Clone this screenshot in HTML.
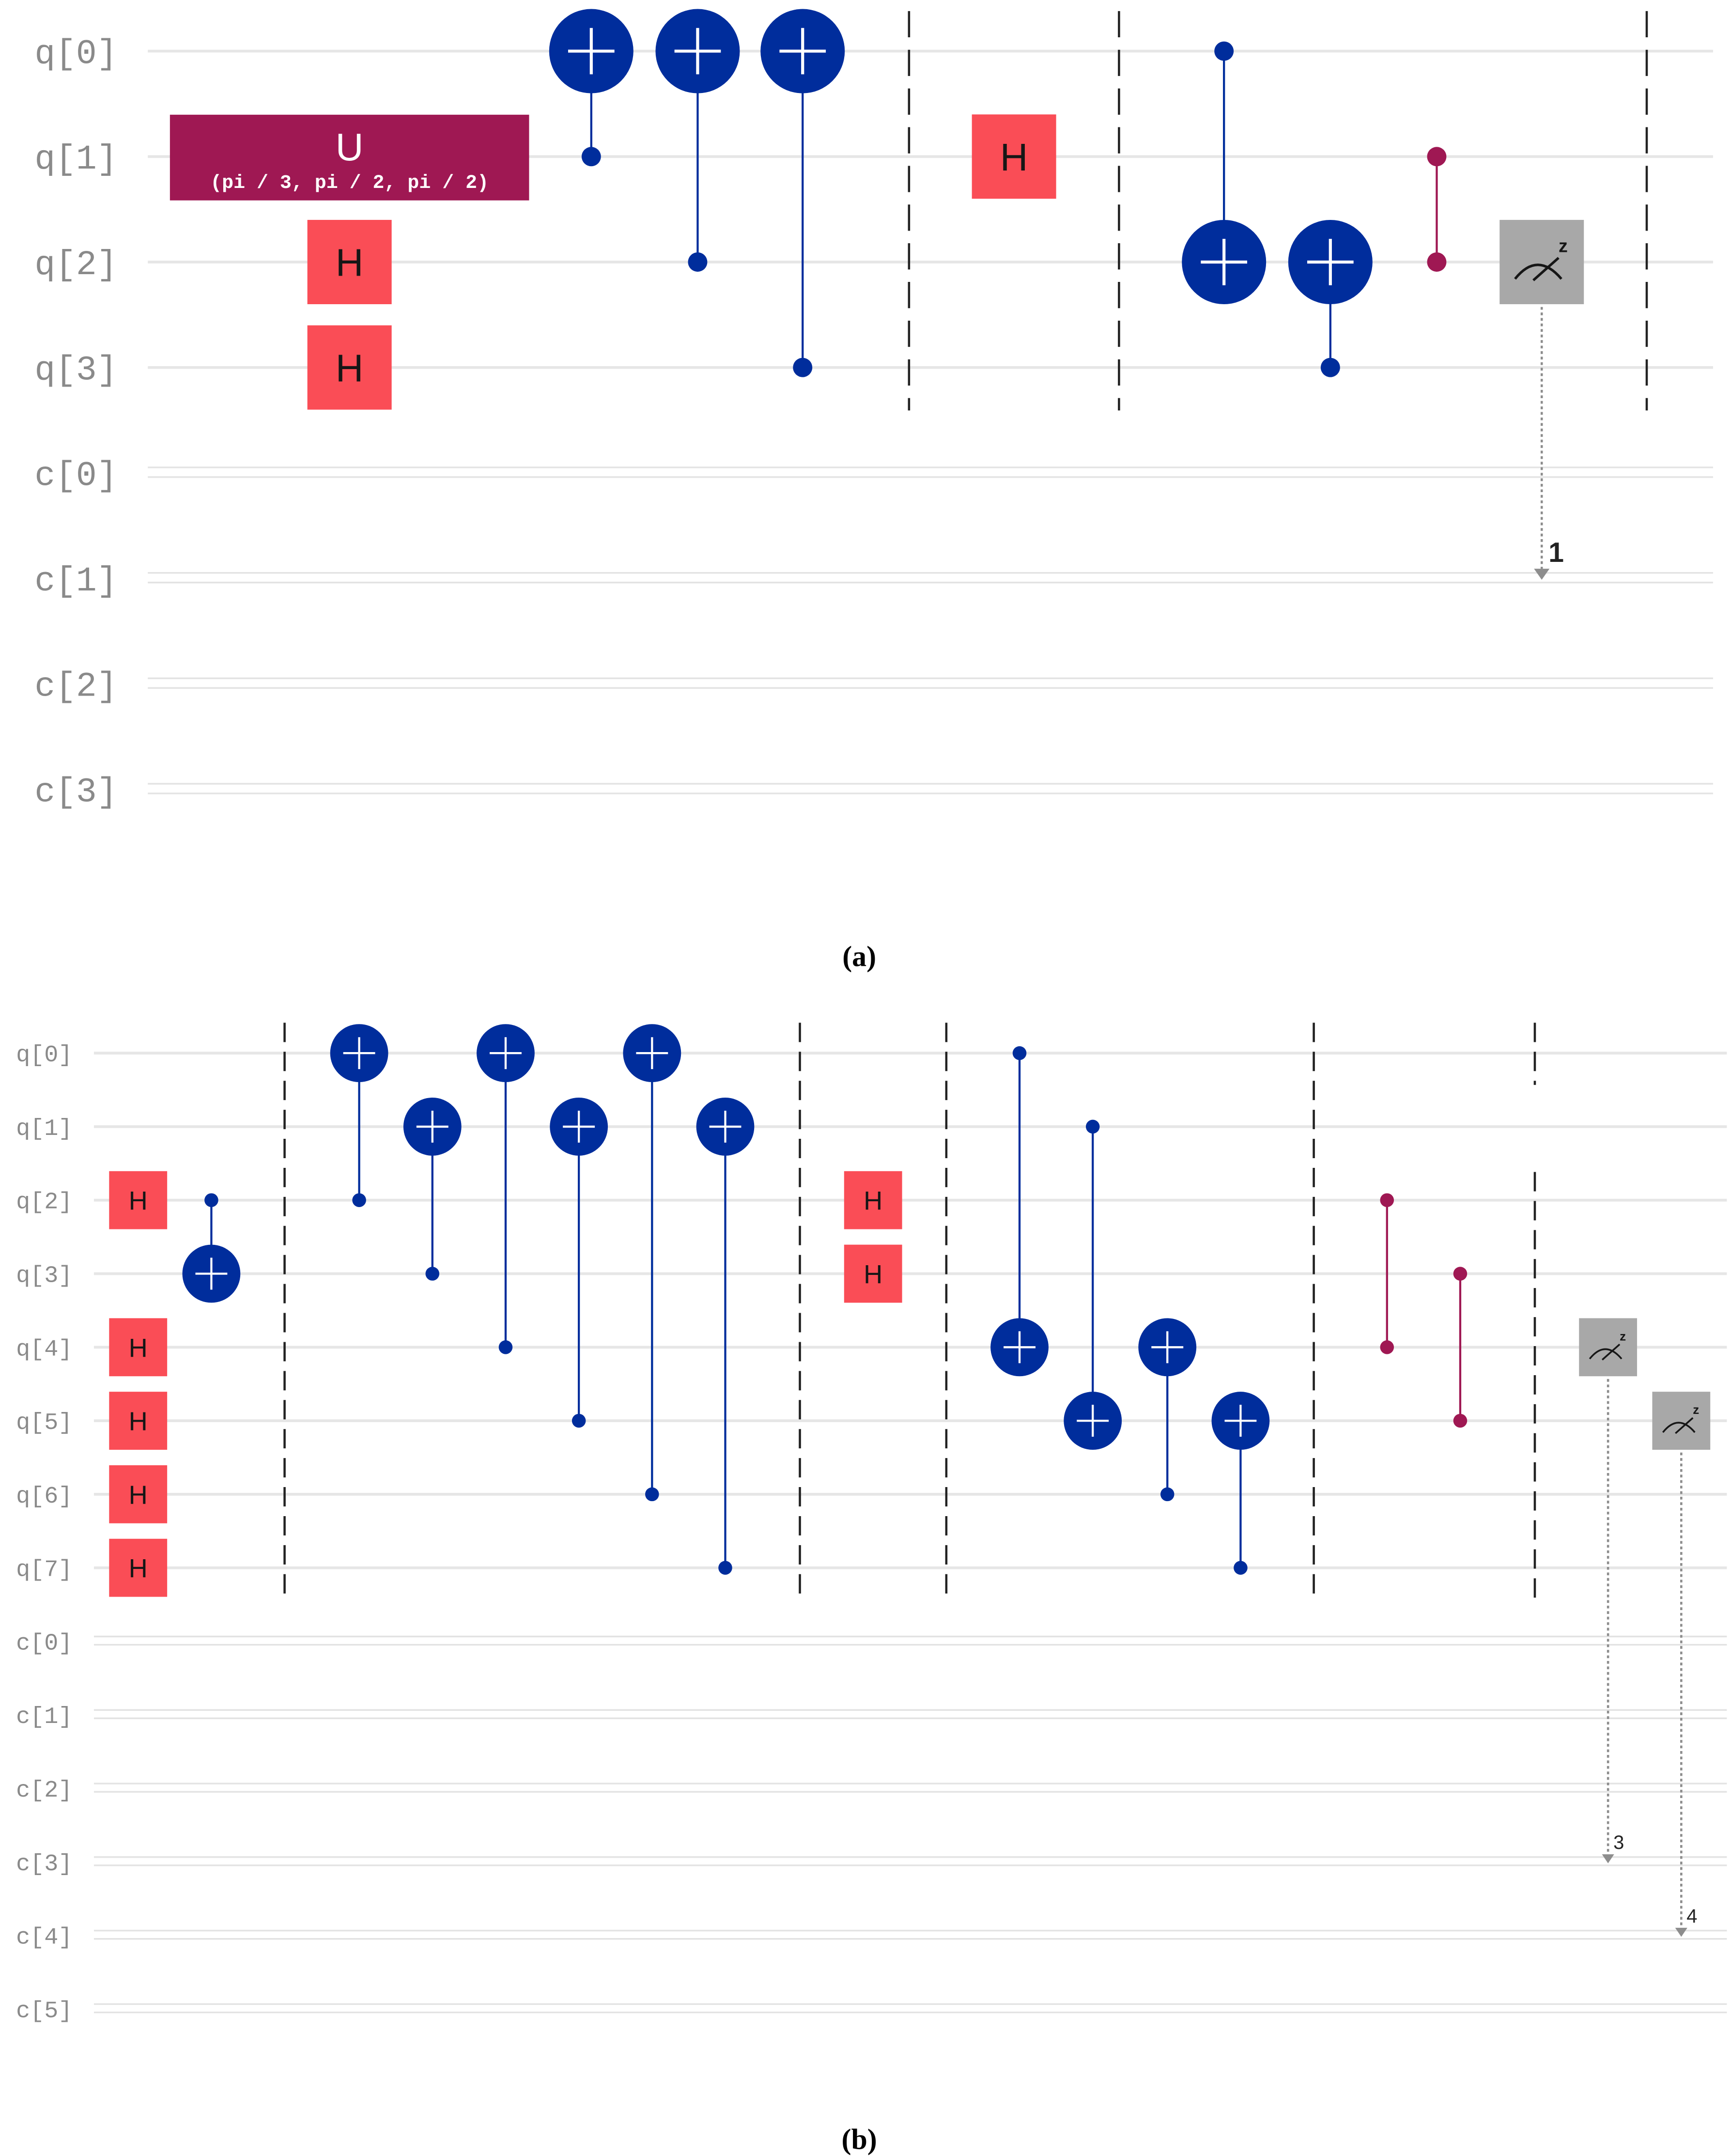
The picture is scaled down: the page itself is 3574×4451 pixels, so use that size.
<!DOCTYPE html>
<html><head><meta charset="utf-8"><style>
html,body{margin:0;padding:0;background:#fff;}
svg{display:block;}
</style></head><body>
<svg id="fig" xmlns="http://www.w3.org/2000/svg" width="3574" height="4451" viewBox="0 0 1253 1560" preserveAspectRatio="none">
<rect x="0" y="0" width="1253" height="1560" fill="#fff"/>
<g id="a"></g>
<g id="b"></g>
<text x="622" y="699" text-anchor="middle" font-family="Liberation Serif, serif" font-weight="bold" font-size="21" fill="#000">(a)</text>
<text x="622" y="1555" text-anchor="middle" font-family="Liberation Serif, serif" font-weight="bold" font-size="21" fill="#000">(b)</text>
</svg>
<script>
// Circuit (a) data
const aQubits = ["q[0]","q[1]","q[2]","q[3]"];
const aClbits = ["c[0]","c[1]","c[2]","c[3]"];
const aH = [[2,253],[3,253],[1,734]];            // [qubit, column x]
const aCnot = [[428,1,0],[505,2,0],[581,3,0],[886,0,2],[963,3,2]]; // [x, ctrl, target]
const aCz = [[1040,1,2]];
const aBarriers = [658,810,1192];
const aMeasure = [[1116,2,1]];                   // [x, qubit, clbit]
// Circuit (b) data
const bQubits = ["q[0]","q[1]","q[2]","q[3]","q[4]","q[5]","q[6]","q[7]"];
const bClbits = ["c[0]","c[1]","c[2]","c[3]","c[4]","c[5]"];
const bH = [[2,100],[4,100],[5,100],[6,100],[7,100],[2,632],[3,632]];
const bCnot = [[153,2,3],[260,2,0],[313,3,1],[366,4,0],[419,5,1],[472,6,0],[525,7,1],[738,0,4],[791,1,5],[845,6,4],[898,7,5]];
const bCz = [[1004,2,4],[1057,3,5]];
const bBarriers = [206,579,685,951,1111];
const bMeasure = [[1164,4,3],[1217,5,4]];

const NS="http://www.w3.org/2000/svg";
function mk(parent,tag,attrs,txt){const e=document.createElementNS(NS,tag);for(const k in attrs)e.setAttribute(k,attrs[k]);if(txt!==undefined)e.textContent=txt;parent.appendChild(e);return e;}

function draw(g,cfg){
  const nq=cfg.q.length;
  const y=i=>cfg.y0+i*cfg.dy;
  const all=cfg.q.concat(cfg.c);
  all.forEach((lab,i)=>{
    const t=mk(g,'text',{x:cfg.lx,y:y(i)+cfg.fs*0.35,'text-anchor':'middle','font-family':'Liberation Mono, monospace','font-size':cfg.fs,fill:'#8a8a8a'},lab);
    
    
    if(i<nq){
      const l=mk(g,'line',{x1:cfg.wx0,x2:cfg.wx1,y1:y(i),y2:y(i),stroke:'#e6e6e6','stroke-width':2});
      
      
    } else {
      for(const d of [-cfg.cd,cfg.cd]){
        const l=mk(g,'line',{x1:cfg.wx0,x2:cfg.wx1,y1:y(i)+d-0.5,y2:y(i)+d-0.5,stroke:'#e3e3e3','stroke-width':1.2});
        
        
      }
    }
  });
  cfg.barriers.forEach(x=>{
    const segs=cfg.barrierSegs(x);
    segs.forEach(s=>{
      const l=mk(g,'line',{x1:x,x2:x,y1:s[0],y2:s[1],stroke:'#222','stroke-width':1.6,'stroke-dasharray':cfg.dash});
      
      
    });
  });
  const gs=cfg.gate;
  cfg.h.forEach(([q,x])=>{
    const r=mk(g,'rect',{x:x-gs/2,y:y(q)-gs/2,width:gs,height:gs,fill:'#fa4d56'});
    
    
    mk(g,'text',{x:x,y:y(q)+cfg.hfs*0.36,'text-anchor':'middle','font-family':'Liberation Sans, sans-serif','font-size':cfg.hfs,fill:'#161616'},'H');
  });
  cfg.cnot.forEach(([x,c,t])=>{
    const l=mk(g,'line',{x1:x,x2:x,y1:y(c),y2:y(t),stroke:'#002d9c','stroke-width':1.5});
    
    
    const d=mk(g,'circle',{cx:x,cy:y(c),r:cfg.dot,fill:'#002d9c'});
    
    
    const T=mk(g,'circle',{cx:x,cy:y(t),r:cfg.tr,fill:'#002d9c'});
    
    
    const p=cfg.tr*0.55;
    mk(g,'path',{d:`M${x-p} ${y(t)}H${x+p}M${x} ${y(t)-p}V${y(t)+p}`,stroke:'#fff','stroke-width':cfg.tr/14});
  });
  cfg.cz.forEach(([x,a,b])=>{
    const l=mk(g,'line',{x1:x,x2:x,y1:y(a),y2:y(b),stroke:'#9f1853','stroke-width':1.5});
    
    
    [a,b].forEach(q=>{
      const d=mk(g,'circle',{cx:x,cy:y(q),r:cfg.dot,fill:'#9f1853'});
      
      
    });
  });
  cfg.meas.forEach(([x,q,c])=>{
    const cy=y(nq+c);
    const l=mk(g,'line',{x1:x,x2:x,y1:y(q)+gs/2+2,y2:cy-cfg.arr,stroke:'#8d8d8d','stroke-width':1.6,'stroke-dasharray':'2 2'});
    
    
    const A=mk(g,'path',{d:`M${x-cfg.arr*0.8} ${cy-cfg.arr}L${x+cfg.arr*0.8} ${cy-cfg.arr}L${x} ${cy+1}Z`,fill:'#8d8d8d'});
    
    
    const lt=mk(g,'text',{x:x+cfg.arr*0.7,y:cy-cfg.arr*1.7,'font-family':'Liberation Sans, sans-serif','font-weight':cfg.mbold,'font-size':cfg.mfs,fill:'#222'},String(c));
    
    
    const r=mk(g,'rect',{x:x-gs/2,y:y(q)-gs/2,width:gs,height:gs,fill:'#a8a8a8'});
    
    
    const s=gs/60, cy2=y(q)+10*s;
    mk(g,'path',{d:`M${x-19*s} ${cy2+2*s}Q${x-3*s} ${cy2-18*s} ${x+14*s} ${cy2+2*s}M${x-6*s} ${cy2+3*s}L${x+12*s} ${cy2-13*s}`,stroke:'#161616','stroke-width':1.8*s,fill:'none'});
    mk(g,'text',{x:x+12*s,y:y(q)-7*s,'font-family':'Liberation Sans, sans-serif','font-weight':'bold','font-size':13*s,fill:'#161616'},'z');
  });
}

const ga=document.getElementById('a');
draw(ga,{q:aQubits,c:aClbits,y0:37,dy:76.3,lx:55,fs:25,wx0:107,wx1:1240,cd:3.5,gate:61,hfs:28,tr:30.5,dot:7,arr:7,mfs:20,mbold:'bold',
  h:aH,cnot:aCnot,cz:aCz,meas:aMeasure,barriers:aBarriers,dash:'19 9',barrierSegs:()=>[[8,297]]});
// U gate
const ug=document.createElementNS(NS,'g');ga.appendChild(ug);


mk(ug,'rect',{x:123,y:83,width:260,height:62,fill:'#9f1853'});
mk(ug,'text',{x:253,y:116,'text-anchor':'middle','font-family':'Liberation Sans, sans-serif','font-size':28,fill:'#fff'},'U');
mk(ug,'text',{x:253,y:136,'text-anchor':'middle','font-family':'Liberation Mono, monospace','font-weight':'bold','font-size':14,fill:'#fff'},'(pi / 3, pi / 2, pi / 2)');

const gb=document.getElementById('b');
draw(gb,{q:bQubits,c:bClbits,y0:762,dy:53.2,lx:32,fs:17,wx0:68,wx1:1250,cd:3,gate:42,hfs:19,tr:21,dot:5,arr:5.5,mfs:14,mbold:'normal',
  h:bH,cnot:bCnot,cz:bCz,meas:bMeasure,barriers:bBarriers,dash:'14 7',
  barrierSegs:x=>x===1111?[[740,785],[848,1157]]:[[740,1157]]});
</script>
</body></html>
